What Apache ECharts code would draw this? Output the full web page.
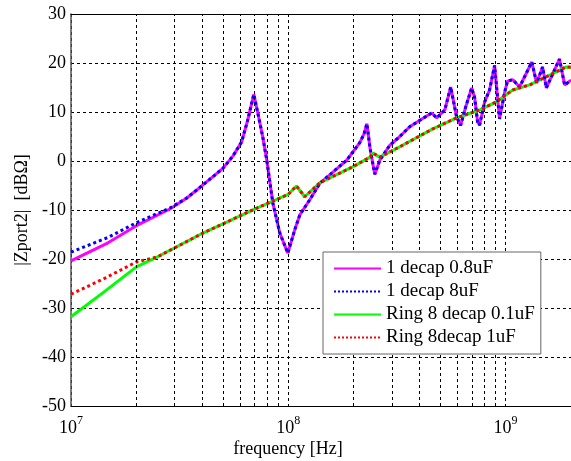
<!DOCTYPE html>
<html><head><meta charset="utf-8">
<script src="https://cdn.jsdelivr.net/npm/echarts@6/dist/echarts.min.js"></script>
<style>html,body{margin:0;padding:0;background:#fff}#c{width:571px;height:461px}</style>
</head><body><div id="c"></div>
<script>
// ---- data (frequency in Hz, |Zport2| in dBOhm) ----
const seriesNames = ['1 decap 0.8uF', '1 decap 8uF', 'Ring 8 decap 0.1uF', 'Ring 8decap 1uF'];
const freqA = [1e7, 1.48e7, 2.0e7, 2.85e7, 3.4e7, 3.92e7, 4.5e7, 5.0e7, 5.56e7, 6.1e7, 6.5e7, 6.94e7, 7.24e7, 7.63e7, 7.96e7, 8.49e7, 9.14e7, 9.95e7, 1.07e8, 1.13e8, 1.26e8, 1.40e8, 1.6e8, 1.86e8, 2.13e8, 2.23e8, 2.30e8, 2.38e8, 2.50e8, 2.64e8, 2.93e8, 3.26e8, 3.62e8, 4.1e8, 4.57e8, 4.82e8, 5.25e8, 5.59e8, 5.95e8, 6.21e8, 6.55e8, 6.98e8, 7.2e8, 7.43e8, 7.59e8, 8.0e8, 8.44e8, 8.9e8, 9.38e8, 9.9e8, 1.02e9, 1.08e9, 1.16e9, 1.32e9, 1.39e9, 1.48e9, 1.54e9, 1.77e9, 1.87e9, 2e9];
const magenta = [-20.4, -16.7, -13.2, -9.8, -7.6, -5.4, -3.2, -1.5, 1.0, 3.9, 8.3, 13.6, 9.8, 4.9, 0.2, -8.6, -14.7, -18.8, -14.1, -11.0, -7.8, -4.5, -2.3, 0.2, 3.7, 5.5, 7.6, 2.5, -2.7, 0.2, 3.2, 5.0, 7.0, 8.5, 9.8, 8.8, 10.4, 15.1, 9.0, 7.3, 11, 14.9, 13, 8, 7.3, 12, 14.5, 19.5, 8.6, 14, 16.3, 16.6, 15.1, 20.2, 15.9, 19.2, 14.9, 20.8, 15.5, 16.5];
const blue = [-18.6, -15.6, -12.6, -9.6, -7.6, -5.4, -3.2, -1.5, 1.0, 3.9, 8.3, 13.6, 9.8, 4.9, 0.2, -8.6, -14.7, -18.8, -14.1, -11.0, -7.8, -4.5, -2.3, 0.2, 3.7, 5.5, 7.6, 2.5, -2.7, 0.2, 3.2, 5.0, 7.0, 8.5, 9.8, 8.8, 10.4, 15.1, 9.0, 7.3, 11, 14.9, 13, 8, 7.3, 12, 14.5, 19.5, 8.6, 14, 16.3, 16.6, 15.1, 20.2, 15.9, 19.2, 14.9, 20.8, 15.5, 16.5];
const freqG = [1e7, 1.42e7, 2.0e7, 2.49e7, 4.05e7, 7.17e7, 1.0e8, 1.09e8, 1.19e8, 1.40e8, 1.98e8, 2.38e8, 2.45e8, 2.64e8, 3.26e8, 4.6e8, 5.95e8, 7.59e8, 9.0e8, 1.08e9, 1.3e9, 1.54e9, 1.9e9, 2e9];
const green = [-31.8, -26.7, -21.6, -19.6, -14.7, -9.6, -6.8, -5.1, -7.3, -4.4, -1.2, 0.8, 1.6, 0.8, 2.9, 6.5, 8.8, 10.4, 12.0, 14.5, 15.6, 17.2, 19.2, 19.0];
const red = [-27.2, -24.0, -20.6, -19.6, -14.7, -9.6, -6.8, -5.1, -7.3, -4.4, -1.2, 0.8, 1.6, 0.8, 2.9, 6.5, 8.8, 10.4, 12.0, 14.5, 15.6, 17.2, 19.2, 19.2];
const minorX = [2e7, 3e7, 4e7, 5e7, 6e7, 7e7, 8e7, 9e7, 2e8, 3e8, 4e8, 5e8, 6e8, 7e8, 8e8, 9e8];
const yTicks = {min: -50, max: 30, interval: 10};
const xRange = {min: 1e7, max: 2e9};

const FONT = 'Liberation Serif';
const pairs = (xs, ys) => xs.map((x, i) => [x, ys[i]]);
const dash = {color: '#000', width: 1, type: [3, 3]};
const chart = echarts.init(document.getElementById('c'), null, {renderer: 'canvas'});
const xBase = {
  type: 'log', logBase: 10, min: xRange.min, max: xRange.max
};
chart.setOption({
  animation: false,
  backgroundColor: '#fff',
  grid: {left: 71, right: 0, top: 14, bottom: 55},
  title: {
    text: 'frequency [Hz]', left: 288, top: 440, textAlign: 'center', padding: 0,
    textStyle: {fontFamily: FONT, fontSize: 18, fontWeight: 'normal', color: '#000', lineHeight: 18}
  },
  legend: {
    data: seriesNames,
    orient: 'vertical',
    left: 323, top: 252,
    padding: [7, 6, 7, 10],
    itemWidth: 47, itemHeight: 14, itemGap: 4,
    backgroundColor: '#fff', borderColor: '#666', borderWidth: 1, borderRadius: 0,
    itemStyle: {color: 'rgba(0,0,0,0)', borderWidth: 0, opacity: 0},
    textStyle: {fontFamily: FONT, fontSize: 19, lineHeight: 19, color: '#000'},
    z: 10
  },
  xAxis: [
    Object.assign({}, xBase, {
      position: 'bottom',
      axisLine: {show: true, onZero: false, lineStyle: {color: '#000', width: 1}},
      axisTick: {show: false},
      splitLine: {show: true, lineStyle: dash},
      minorTick: {show: false},
      axisLabel: {
        margin: 9, showMaxLabel: false,
        formatter: v => '{b|10}{s|' + Math.round(Math.log10(v)) + '}',
        rich: {
          b: {fontFamily: FONT, fontSize: 18, lineHeight: 22, verticalAlign: 'bottom', color: '#000'},
          s: {fontFamily: FONT, fontSize: 12, lineHeight: 12, verticalAlign: 'top', color: '#000'}
        }
      }
    }),
    Object.assign({}, xBase, {
      position: 'top',
      axisLine: {show: true, onZero: false, lineStyle: {color: '#000', width: 1}},
      axisTick: {show: false}, axisLabel: {show: false}, splitLine: {show: false}
    })
  ],
  yAxis: {
    type: 'value', min: yTicks.min, max: yTicks.max, interval: yTicks.interval,
    name: '|Zport2|  [dBΩ]', nameLocation: 'middle', nameGap: 35, nameRotate: 90,
    nameTextStyle: {fontFamily: FONT, fontSize: 18, color: '#000'},
    axisLine: {show: true, onZero: false, lineStyle: {color: '#555', width: 1.5}},
    axisTick: {show: false},
    splitLine: {show: true, lineStyle: dash},
    axisLabel: {fontFamily: FONT, fontSize: 18, color: '#000', margin: 5}
  },
  series: [
    {
      type: 'line', name: 'minor', data: [], z: 1, silent: true,
      markLine: {
        silent: true, symbol: 'none', label: {show: false}, animation: false,
        lineStyle: dash, emphasis: {disabled: true},
        data: minorX.map(v => ({xAxis: v}))
      }
    },
    {type: 'line', name: seriesNames[0], data: pairs(freqA, magenta), symbol: 'none', z: 3,
     lineStyle: {color: '#ff00ff', width: 3}, itemStyle: {color: '#ff00ff'}},
    {type: 'line', name: seriesNames[1], data: pairs(freqA, blue), symbol: 'none', z: 4,
     lineStyle: {color: '#0000ff', width: 3, type: 'dotted'}, itemStyle: {color: '#0000ff'}},
    {type: 'line', name: seriesNames[2], data: pairs(freqG, green), symbol: 'none', z: 3,
     lineStyle: {color: '#00ff00', width: 3}, itemStyle: {color: '#00ff00'}},
    {type: 'line', name: seriesNames[3], data: pairs(freqG, red), symbol: 'none', z: 4,
     lineStyle: {color: '#ff0000', width: 3, type: 'dotted'}, itemStyle: {color: '#ff0000'}}
  ]
});
</script></body></html>
